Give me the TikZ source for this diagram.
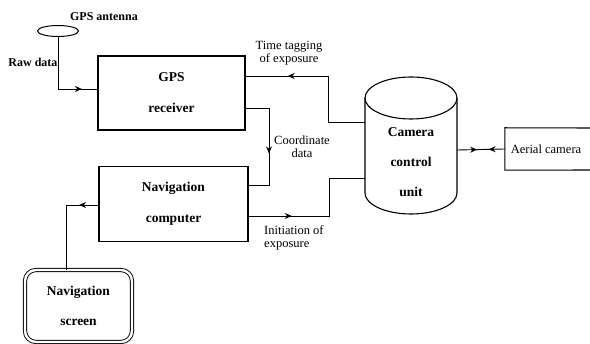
\documentclass[tikz,border=0pt]{standalone}
\usepackage{fontspec}
\setmainfont{Liberation Serif}
\usetikzlibrary{shapes.geometric,arrows.meta,decorations.markings}
\begin{document}
\begin{tikzpicture}[x=1pt,y=-1pt,
  box/.style={draw,line width=1.1pt,inner sep=0pt,font=\bfseries\fontsize{13.5}{31}\selectfont,align=center},
  lbl/.style={inner sep=0pt,font=\fontsize{12.5}{13}\selectfont,align=center},
  blbl/.style={inner sep=0pt,font=\bfseries\fontsize{12}{13}\selectfont},
  conn/.style={line width=0.9pt},
  flow/.style={conn,postaction={decorate},decoration={markings,mark=at position #1 with {\arrow{Stealth[length=7pt,width=6pt]}}}},
  flowtwo/.style={conn,postaction={decorate},decoration={markings,
     mark=at position 0.42 with {\arrow{Stealth[length=7pt,width=6pt]}},
     mark=at position 0.66 with {\arrowreversed{Stealth[length=7pt,width=6pt]}}}}
]
\useasboundingbox (0,0) rectangle (590,344);

% GPS antenna
\node[draw,ellipse,line width=1pt,minimum width=41pt,minimum height=11pt,inner sep=0pt] (ant) at (58,31) {};
\node[blbl] (antl) at (104,17) {GPS antenna};
\node[blbl] (rawl) at (33,62) {Raw data};

% boxes
\node[box,minimum width=147pt,minimum height=74pt] (gps) at (171.5,93) {GPS\\receiver};
\node[box,minimum width=149pt,minimum height=75pt] (nav) at (173.5,204) {Navigation\\computer};
\node[draw,double,double distance=2.4pt,line width=0.9pt,rounded corners=11pt,
      minimum width=107pt,minimum height=72pt,inner sep=0pt,
      font=\bfseries\fontsize{13.5}{30}\selectfont,align=center] (scr) at (78.5,306) {Navigation\\screen};

% camera control unit (cylinder)
\node[inner sep=0pt,minimum width=92pt,minimum height=100pt,
      font=\bfseries\fontsize{13.5}{30}\selectfont,align=center] (ccu) at (411,162) {Camera\\control\\unit};
\draw[line width=1.1pt] (411,98) ellipse [x radius=46pt, y radius=21pt];
\draw[line width=1.1pt] (365,98) -- (365,193) arc[start angle=180,end angle=360,x radius=46pt,y radius=21pt] -- (457,98);

% aerial camera
\node[inner sep=0pt,minimum width=82pt,minimum height=42pt,font=\fontsize{12.5}{13}\selectfont] (cam) at (546,149) {Aerial camera};
\draw[line width=1.1pt] (598,128) -- (cam.north west) -- (cam.south west) -- (598,170);

% connectors
\draw[flow=0.83] (ant.south) -- (58,89) -- (gps.west |- 0,89);
\draw[flow=0.745] (ccu.west |- 0,122) -- (328,122) -- (328,76) -- (gps.east |- 0,76);
\draw[flow=0.57] (gps.east |- 0,108) -- (269,108) -- (269,185) -- (nav.east |- 0,185);
\draw[flow=0.28] (nav.east |- 0,216) -- (329,216) -- (329,178) -- (ccu.west |- 0,178);
\draw[flow=0.2] (nav.west |- 0,205) -- (66,205) -- (scr.north -| 66,0);
\draw[flowtwo] (ccu.east |- 0,150) -- (cam.west);

% labels
\node[lbl] (tl) at (289,53.5) {Time tagging\\of exposure};
\node[lbl] (cl) at (302,146.5) {Coordinate\\data};
\node[lbl,align=left,anchor=west] (il) at (264,237.5) {Initiation of\\exposure};
\end{tikzpicture}
\end{document}
